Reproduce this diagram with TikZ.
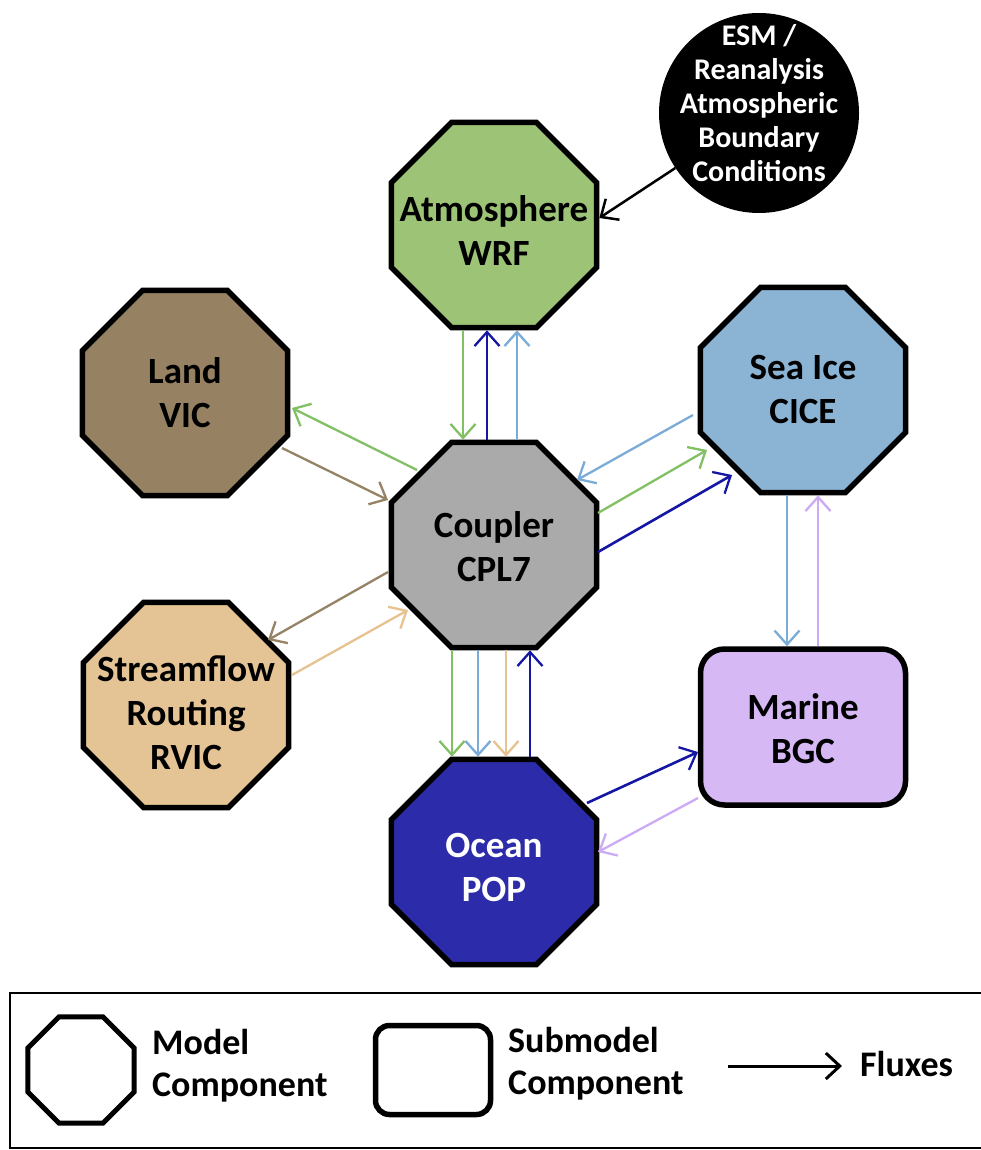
\documentclass[tikz,border=0pt]{standalone}
\usepackage{fontspec}
\setmainfont{Carlito}
\usetikzlibrary{shapes.geometric,arrows.meta,calc}
\definecolor{atmfill}{RGB}{156,195,118}
\definecolor{landfill}{RGB}{150,129,98}
\definecolor{icefill}{RGB}{139,180,212}
\definecolor{cplfill}{RGB}{170,170,170}
\definecolor{rvicfill}{RGB}{228,196,148}
\definecolor{ocnfill}{RGB}{44,44,170}
\definecolor{bgcfill}{RGB}{214,184,245}
\definecolor{cgreen}{RGB}{130,192,100}
\definecolor{cdblue}{RGB}{22,22,165}
\definecolor{clblue}{RGB}{122,172,215}
\definecolor{cbrown}{RGB}{150,130,100}
\definecolor{ctan}{RGB}{230,195,145}
\definecolor{clav}{RGB}{205,170,245}
\begin{document}
\begin{tikzpicture}[x=1pt,y=-1pt,
  oct/.style={regular polygon, regular polygon sides=8, minimum size=222pt, draw=black, line width=5.5pt, inner sep=0pt},
  lab/.style={font=\fontsize{37}{44}\selectfont\bfseries, align=center, inner sep=0pt},
  flux/.style={line width=2.3pt, -{Straight Barb[length=14pt,width=25pt,line width=2.3pt]}},
  legtext/.style={font=\fontsize{36}{42}\selectfont\bfseries, align=left, anchor=west, inner sep=0pt}
]
\useasboundingbox (0,0) rectangle (981,1150);
\fill[white] (0,0) rectangle (981,1150);

% nodes
\node[oct, fill=atmfill, label={[lab, yshift=-6pt]center:Atmosphere\\WRF}] (atm) at (494,225) {};
\node[oct, fill=cplfill, label={[lab, yshift=-2pt]center:Coupler\\CPL7}] (cpl) at (494,545) {};
\node[oct, fill=landfill, label={[lab]center:Land\\VIC}] (land) at (185,393) {};
\node[oct, fill=icefill, label={[lab, yshift=1pt]center:Sea Ice\\CICE}] (ice) at (803,390) {};
\node[oct, fill=rvicfill, label={[lab, yshift=-8pt]center:Streamflow\\Routing\\RVIC}] (rvic) at (186,705) {};
\node[oct, fill=ocnfill, label={[lab, text=white, yshift=-5pt]center:Ocean\\POP}] (ocn) at (494,862) {};
\node[draw=black, line width=5.5pt, rounded corners=24pt, fill=bgcfill, minimum width=205pt, minimum height=156pt,
  label={[lab, yshift=-2pt]center:Marine\\BGC}] (bgc) at (803,727) {};
\node[circle, fill=black, minimum size=200pt, inner sep=0pt,
  label={[text=white, inner sep=0pt, font=\fontsize{30}{34}\selectfont\bfseries, align=center, yshift=10pt]center:ESM /\\Reanalysis\\Atmospheric\\Boundary\\Conditions}] (esm) at (759,113) {};

% ESM -> atmosphere
\draw[line width=2.5pt, -{Straight Barb[length=14pt,width=25pt,line width=2.5pt]}] (esm) -- ($(atm.east)+(0,-7)$);

% atmosphere <-> coupler
\draw[flux, cgreen] ($(atm.south)+(-31,0)$) -- ($(cpl.north)+(-31,0)$);
\draw[flux, cdblue, line width=2.6pt] ($(cpl.north)+(-7,0)$) -- ($(atm.south)+(-7,0)$);
\draw[flux, clblue] ($(cpl.north)+(23,0)$) -- ($(atm.south)+(23,0)$);

% land <-> coupler
\draw[flux, cgreen] ($(cpl.center)+(-77,-75)$) -- ($(land.center)+(107,15)$);
\draw[flux, cbrown] ($(land.center)+(97,55)$) -- ($(cpl.center)+(-106,-45)$);

% streamflow <-> coupler
\draw[flux, cbrown] ($(cpl.center)+(-106,27)$) -- ($(rvic.center)+(82,-65)$);
\draw[flux, ctan] ($(rvic.center)+(106,-30)$) -- ($(cpl.center)+(-86,65)$);

% sea ice <-> coupler
\draw[flux, clblue] ($(ice.center)+(-110,25)$) -- ($(cpl.center)+(83,-65)$);
\draw[flux, cgreen] ($(cpl.center)+(104,-32)$) -- ($(ice.center)+(-96,60)$);
\draw[flux, cdblue, line width=2.6pt] ($(cpl.center)+(104,7)$) -- ($(ice.center)+(-71,85)$);

% coupler <-> ocean
\draw[flux, cgreen] ($(cpl.south)+(-42,0)$) -- ($(ocn.north)+(-42,0)$);
\draw[flux, clblue] ($(cpl.south)+(-16,0)$) -- ($(ocn.north)+(-16,0)$);
\draw[flux, ctan] ($(cpl.south)+(12,0)$) -- ($(ocn.north)+(12,0)$);
\draw[flux, cdblue, line width=2.6pt] ($(ocn.north)+(36,0)$) -- ($(cpl.south)+(36,0)$);

% ocean <-> marine bgc
\draw[flux, cdblue, line width=2.6pt] ($(ocn.center)+(93,-59)$) -- ($(bgc.center)+(-105,25)$);
\draw[flux, clav] ($(bgc.center)+(-105,71)$) -- ($(ocn.center)+(104,-10)$);

% sea ice <-> marine bgc
\draw[flux, clblue] ($(ice.south)+(-16,0)$) -- ($(bgc.north)+(-16,0)$);
\draw[flux, clav] ($(bgc.north)+(15,0)$) -- ($(ice.south)+(15,0)$);

% legend
\node[draw=black, line width=1.5pt, minimum width=990pt, minimum height=155pt, inner sep=0pt, anchor=north west] (legend) at (9,992) {};
\node[regular polygon, regular polygon sides=8, minimum size=115pt, draw=black, line width=5pt, inner sep=0pt] (legoct) at (81,1070) {};
\node[legtext] (legmodel) at (152,1066) {Model\\Component};
\node[draw=black, line width=5.5pt, rounded corners=14pt, minimum width=115pt, minimum height=89pt, inner sep=0pt] (legrect) at (433,1070) {};
\node[legtext] (legsub) at (508,1064) {Submodel\\Component};
\coordinate (legarrA) at (728,1066);
\coordinate (legarrB) at (842,1066);
\draw[line width=3pt, -{Straight Barb[length=14pt,width=26pt,line width=3pt]}] (legarrA) -- (legarrB);
\node[legtext] (legflux) at (860,1064) {Fluxes};
\end{tikzpicture}
\end{document}
